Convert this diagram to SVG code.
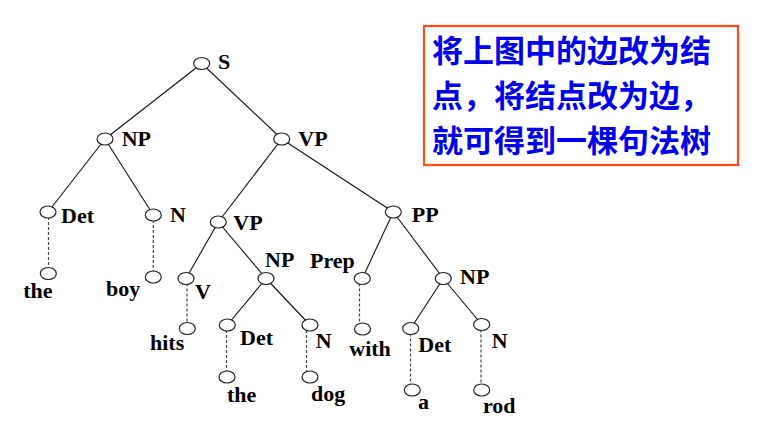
<svg xmlns="http://www.w3.org/2000/svg" width="762" height="428" viewBox="0 0 762 428">
<style>
.n{fill:#fff;stroke:#222;stroke-width:1.2}
.e{stroke:#111;stroke-width:1.1;fill:none}
.d{stroke:#444;stroke-width:1.2;stroke-dasharray:3 2;fill:none}
.t{font-family:"Liberation Serif","Times New Roman",serif;font-weight:bold;font-size:22px;fill:#000}
.c{font-family:"Noto Sans CJK SC",sans-serif;font-weight:bold;font-size:31px;fill:#0000f0}
</style>
<rect x="0" y="0" width="762" height="428" fill="#fff"/>
<g id="connectors">
<line class="e" x1="201.7" y1="63.5" x2="105" y2="139"/>
<line class="e" x1="201.7" y1="63.5" x2="281.7" y2="139"/>
<line class="e" x1="105" y1="139" x2="48" y2="212"/>
<line class="e" x1="105" y1="139" x2="153.3" y2="215"/>
<line class="e" x1="281.7" y1="139" x2="218.3" y2="222"/>
<line class="e" x1="281.7" y1="139" x2="393.3" y2="212"/>
<line class="e" x1="218.3" y1="222" x2="186" y2="278.5"/>
<line class="e" x1="218.3" y1="222" x2="266" y2="278.5"/>
<line class="e" x1="266" y1="278.5" x2="227.3" y2="325"/>
<line class="e" x1="266" y1="278.5" x2="310" y2="325"/>
<line class="e" x1="393.3" y1="212" x2="362.3" y2="278.5"/>
<line class="e" x1="393.3" y1="212" x2="443.3" y2="278.5"/>
<line class="e" x1="443.3" y1="278.5" x2="410.7" y2="328.5"/>
<line class="e" x1="443.3" y1="278.5" x2="481.7" y2="324.5"/>
<line class="d" x1="48.5" y1="212" x2="48.5" y2="273.5"/>
<line class="d" x1="153.3" y1="215" x2="153.3" y2="277"/>
<line class="d" x1="187" y1="278.5" x2="187" y2="328.5"/>
<line class="d" x1="226.5" y1="325" x2="226.5" y2="377"/>
<line class="d" x1="306.5" y1="325" x2="306.5" y2="377"/>
<line class="d" x1="359.5" y1="278.5" x2="359.5" y2="329"/>
<line class="d" x1="410.5" y1="328.5" x2="410.5" y2="390"/>
<line class="d" x1="481" y1="324.5" x2="481" y2="390"/>
</g>
<g id="S"><ellipse class="n" cx="201.7" cy="63.5" rx="8" ry="6"/><text class="t" x="218" y="69">S</text></g>
<g id="NP1"><ellipse class="n" cx="105" cy="139" rx="8" ry="6"/><text class="t" x="121.7" y="146">NP</text></g>
<g id="VP1"><ellipse class="n" cx="281.7" cy="139" rx="8" ry="6"/><text class="t" x="298.3" y="146">VP</text></g>
<g id="Det1"><ellipse class="n" cx="48" cy="212" rx="8" ry="6"/><text class="t" x="61" y="223">Det</text></g>
<g id="N1"><ellipse class="n" cx="153.3" cy="215" rx="8" ry="6"/><text class="t" x="170" y="222">N</text></g>
<g id="the1"><ellipse class="n" cx="48.3" cy="273.5" rx="8" ry="6"/><text class="t" x="23.3" y="298">the</text></g>
<g id="boy"><ellipse class="n" cx="153.3" cy="277" rx="8" ry="6"/><text class="t" x="106" y="296">boy</text></g>
<g id="VP2"><ellipse class="n" cx="218.3" cy="222" rx="8" ry="6"/><text class="t" x="233.3" y="230">VP</text></g>
<g id="PP"><ellipse class="n" cx="393.3" cy="212" rx="8" ry="6"/><text class="t" x="411.7" y="222">PP</text></g>
<g id="V"><ellipse class="n" cx="186" cy="278.5" rx="8" ry="6"/><text class="t" x="195" y="299">V</text></g>
<g id="NP2"><ellipse class="n" cx="266" cy="278.5" rx="8" ry="6"/><text class="t" x="265" y="267">NP</text></g>
<g id="hits"><ellipse class="n" cx="187.3" cy="328.5" rx="8" ry="6"/><text class="t" x="150" y="350">hits</text></g>
<g id="Det2"><ellipse class="n" cx="227.3" cy="325" rx="8" ry="6"/><text class="t" x="240" y="345">Det</text></g>
<g id="N2"><ellipse class="n" cx="310" cy="325" rx="8" ry="6"/><text class="t" x="315.7" y="348">N</text></g>
<g id="the2"><ellipse class="n" cx="227" cy="377" rx="8" ry="6"/><text class="t" x="227" y="402">the</text></g>
<g id="dog"><ellipse class="n" cx="310" cy="377" rx="8" ry="6"/><text class="t" x="311" y="401">dog</text></g>
<g id="Prep"><ellipse class="n" cx="362.3" cy="278.5" rx="8" ry="6"/><text class="t" x="310" y="268">Prep</text></g>
<g id="with"><ellipse class="n" cx="362.5" cy="329" rx="8" ry="6"/><text class="t" x="349.3" y="356">with</text></g>
<g id="NP3"><ellipse class="n" cx="443.3" cy="278.5" rx="8" ry="6"/><text class="t" x="460" y="284">NP</text></g>
<g id="Det3"><ellipse class="n" cx="410.7" cy="328.5" rx="8" ry="6"/><text class="t" x="418.3" y="352">Det</text></g>
<g id="N3"><ellipse class="n" cx="481.7" cy="324.5" rx="8" ry="6"/><text class="t" x="491.7" y="348">N</text></g>
<g id="a"><ellipse class="n" cx="412.3" cy="390" rx="8" ry="6"/><text class="t" x="418" y="409">a</text></g>
<g id="rod"><ellipse class="n" cx="481.7" cy="390" rx="8" ry="6"/><text class="t" x="483" y="413">rod</text></g>
<g id="note">
<rect x="424" y="26" width="314" height="139" fill="#fff" stroke="#ff4a1c" stroke-width="2.2"/>
<text class="c" x="432" y="62">将上图中的边改为结</text>
<text class="c" x="432" y="107">点，将结点改为边，</text>
<text class="c" x="432" y="152">就可得到一棵句法树</text>
</g>
</svg>
